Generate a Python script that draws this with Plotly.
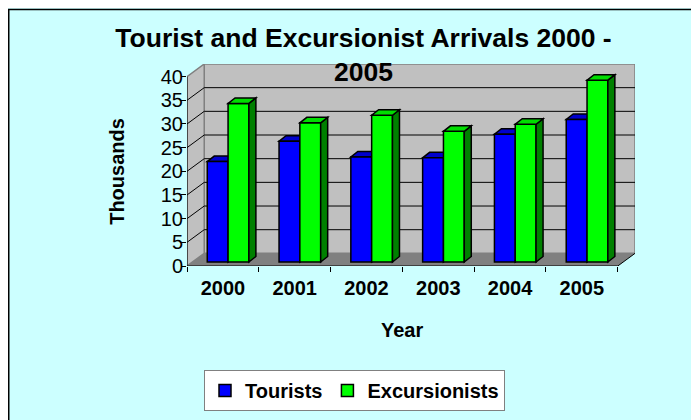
import plotly.graph_objects as go

# ---------------- data ----------------
years = ["2000", "2001", "2002", "2003", "2004", "2005"]
tourists = [21.2, 25.5, 22.2, 22.0, 27.0, 30.1]
excursionists = [33.5, 29.4, 31.0, 27.6, 29.1, 38.4]
series_names = ["Tourists", "Excursionists"]
y_ticks = [0, 5, 10, 15, 20, 25, 30, 35, 40]

# ---------------- styling / geometry ----------------
FONT = "Arial, Liberation Sans, sans-serif"
BG = "#CCFFFF"
WALL = "#C0C0C0"
FLOOR = "#808080"
EDGE = "#808080"
front_cols = ["#0000FF", "#00FF00"]
top_cols = ["#0000CC", "#00DD00"]
side_cols = ["#000080", "#008000"]

Y_MAX = y_ticks[-1]
N = len(years)
WALL_DX = 0.24     # depth offset of back wall (x units)
WALL_DY = 2.67     # depth offset of back wall (y units)
BAR_SHIFT = 0.072  # bars sit slightly behind front plane
BAR_BASE = 0.85
BAR_DX = 0.0975    # bar depth
BAR_DY = 1.16
BARGAP = 0.42
BW = (1 - BARGAP) / 2

x_lo = -0.5
x_hi = N - 0.5

W, H = 699, 420
ML, MT = 179, 56
PW, PH = 448, 202
MR = W - ML - PW
MB = H - MT - PH
OFF = 8  # page body margin


def px_x(px):
    return (px - OFF - ML) / PW


def px_y(px):
    return (H - MB - (px - OFF)) / PH


xs = [i + BAR_SHIFT for i in range(N)]

fig = go.Figure()
for name, vals, col in zip(series_names, [tourists, excursionists], front_cols):
    fig.add_trace(go.Bar(
        x=xs, y=vals, base=BAR_BASE, name=name,
        marker=dict(color=col, line=dict(color="black", width=1.5)),
        hoverinfo="skip",
    ))

shapes = []
# chart border (top and left visible; extends beyond the picture)
shapes.append(dict(type="rect", xref="paper", yref="paper",
                   x0=px_x(8.75), x1=px_x(740), y0=px_y(9.5), y1=px_y(460),
                   line=dict(color="black", width=1.5), layer="below"))
# back wall
shapes.append(dict(type="rect", xref="x", yref="y",
                   x0=x_lo + WALL_DX, x1=x_hi + WALL_DX, y0=WALL_DY, y1=Y_MAX + WALL_DY,
                   fillcolor=WALL, line=dict(color=EDGE, width=1.5), layer="below"))
# side wall
shapes.append(dict(type="path", xref="x", yref="y",
                   path=f"M{x_lo},0 L{x_lo},{Y_MAX} L{x_lo + WALL_DX},{Y_MAX + WALL_DY} L{x_lo + WALL_DX},{WALL_DY} Z",
                   fillcolor=WALL, line=dict(color=EDGE, width=1.5), layer="below"))
# floor
shapes.append(dict(type="path", xref="x", yref="y",
                   path=f"M{x_lo},0 L{x_hi},0 L{x_hi + WALL_DX},{WALL_DY} L{x_lo + WALL_DX},{WALL_DY} Z",
                   fillcolor=FLOOR, line=dict(width=0), layer="below"))
# gridlines on back wall and side wall
for t in y_ticks[1:-1]:
    shapes.append(dict(type="line", xref="x", yref="y",
                       x0=x_lo + WALL_DX, x1=x_hi + WALL_DX, y0=t + WALL_DY, y1=t + WALL_DY,
                       line=dict(color="black", width=1), layer="below"))
for t in y_ticks[1:-1]:
    shapes.append(dict(type="line", xref="x", yref="y",
                       x0=x_lo, x1=x_lo + WALL_DX, y0=t, y1=t + WALL_DY,
                       line=dict(color="black", width=1), layer="below"))
# front axis lines
shapes.append(dict(type="line", xref="x", yref="y", x0=x_lo, x1=x_lo, y0=0, y1=Y_MAX,
                   line=dict(color="black", width=1), layer="below"))
shapes.append(dict(type="line", xref="x", yref="y", x0=x_lo, x1=x_hi, y0=0, y1=0,
                   line=dict(color="black", width=1), layer="below"))
shapes.append(dict(type="line", xref="x", yref="y", x0=x_hi, x1=x_hi + WALL_DX, y0=0, y1=WALL_DY,
                   line=dict(color="black", width=1), layer="below"))

# 3D faces for bars
for i, (t, e) in enumerate(zip(tourists, excursionists)):
    c = xs[i]
    specs = [(c - BW, c, t, 0, "between"), (c, c + BW, e, 1, "above")]
    for x0, x1, v, k, layer in specs:
        y0 = BAR_BASE
        y1 = BAR_BASE + v
        shapes.append(dict(type="path", xref="x", yref="y", layer=layer,
                           path=f"M{x1},{y0} L{x1 + BAR_DX},{y0 + BAR_DY} L{x1 + BAR_DX},{y1 + BAR_DY} L{x1},{y1} Z",
                           fillcolor=side_cols[k], line=dict(color="black", width=1.5)))
        shapes.append(dict(type="path", xref="x", yref="y", layer=layer,
                           path=f"M{x0},{y1} L{x1},{y1} L{x1 + BAR_DX},{y1 + BAR_DY} L{x0 + BAR_DX},{y1 + BAR_DY} Z",
                           fillcolor=top_cols[k], line=dict(color="black", width=1.5)))

annotations = [
    dict(text="<b>Year</b>", xref="x", yref="paper", x=(x_lo + x_hi) / 2, y=px_y(330),
         xanchor="center", yanchor="middle", showarrow=False,
         font=dict(family=FONT, size=20, color="black")),
    dict(text="<b>Thousands</b>", xref="paper", yref="y", x=px_x(117.5), y=Y_MAX / 2,
         xanchor="center", yanchor="middle", showarrow=False, textangle=-90,
         font=dict(family=FONT, size=20, color="black")),
]

fig.update_layout(
    width=W, height=H,
    margin=dict(l=ML, r=MR, t=MT, b=MB, autoexpand=False),
    paper_bgcolor=BG,
    plot_bgcolor="rgba(0,0,0,0)",
    barmode="group", bargap=BARGAP, bargroupgap=0,
    title=dict(text="<b>Tourist and Excursionist Arrivals 2000 -<br>2005</b>",
               xref="container", x=(363.5 - OFF) / W, xanchor="center",
               yref="container", y=1 - 39 / H, yanchor="top",
               font=dict(family=FONT, size=26.5, color="black")),
    xaxis=dict(range=[x_lo, x_hi + WALL_DX], tickvals=list(range(N)), ticktext=years,
               ticks="", showgrid=False, zeroline=False, showline=False,
               ticklabelstandoff=8,
               tickfont=dict(family=FONT, size=20, color="black", weight="bold"),
               minor=dict(tickvals=[i - 0.5 for i in range(N + 1)], ticks="outside",
                          ticklen=5, tickcolor="black", tickwidth=1, showgrid=False)),
    yaxis=dict(range=[0, Y_MAX + WALL_DY], tickvals=y_ticks, ticks="outside", ticklen=5,
               tickcolor="black", showgrid=False, zeroline=False, showline=False,
               ticklabelstandoff=-6,
               tickfont=dict(family=FONT, size=20, color="black")),
    legend=dict(orientation="h", x=px_x(204), xanchor="left", y=px_y(370), yanchor="top",
                bgcolor="white", bordercolor="#808080", borderwidth=1,
                font=dict(family=FONT, size=20, color="black", weight="bold")),
    shapes=shapes,
    annotations=annotations,
)

fig.write_html("out.html")
